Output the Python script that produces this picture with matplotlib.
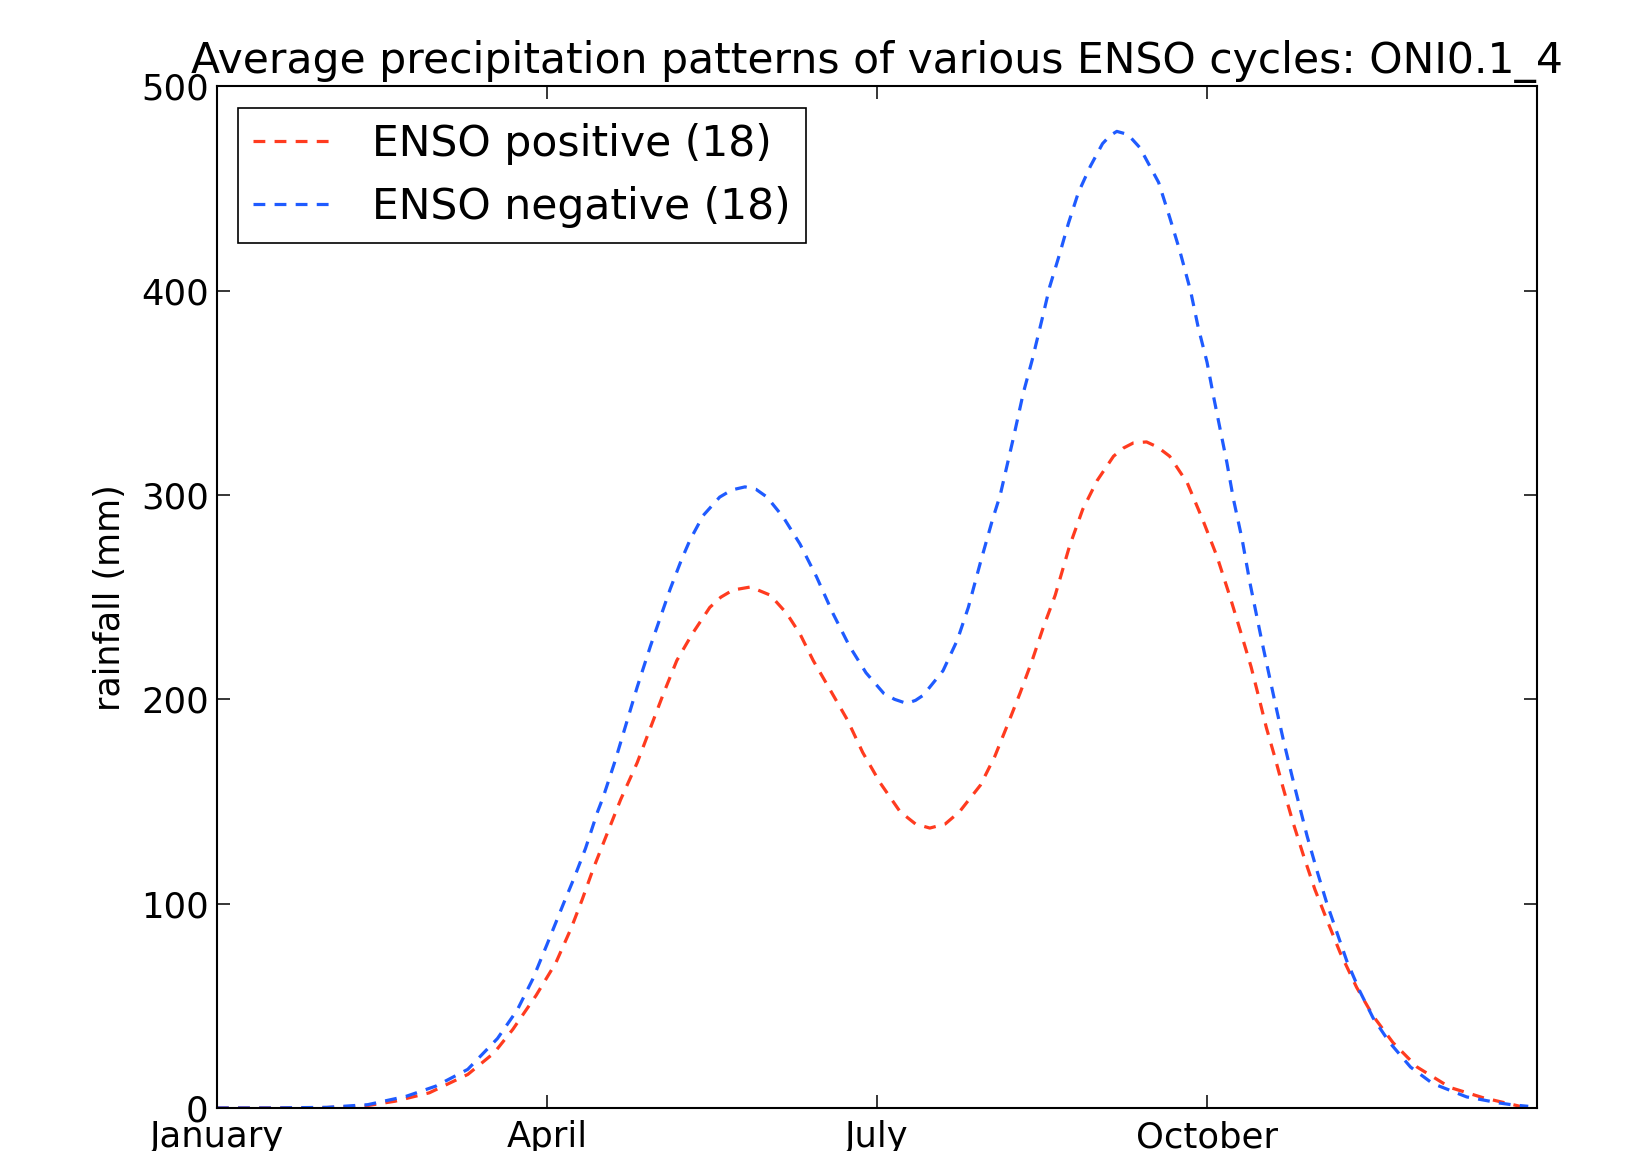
import matplotlib
matplotlib.use("Agg")
import matplotlib.pyplot as plt

# month position (0 = 1 January) and mean rainfall (mm)
pos_months = [0.0, 0.5, 1.0, 1.35, 1.62, 1.93, 2.28, 2.52, 2.69, 2.9, 3.08, 3.22,
              3.32, 3.42, 3.53, 3.67, 3.82, 3.94, 4.06, 4.18, 4.32, 4.48, 4.58,
              4.69, 4.85, 5.03, 5.18, 5.3, 5.42, 5.57, 5.73, 5.87, 6.03, 6.21,
              6.35, 6.48, 6.62, 6.75, 6.94, 7.07, 7.19, 7.3, 7.41, 7.51, 7.62,
              7.75, 7.87, 8.0, 8.15, 8.24, 8.33, 8.45, 8.55, 8.66, 8.82, 8.96,
              9.09, 9.21, 9.3, 9.4, 9.48, 9.54, 9.62, 9.69, 9.78, 9.88, 9.98,
              10.09, 10.21, 10.36, 10.51, 10.69, 10.91, 11.21, 11.51, 11.87]
pos_rain = [0.0, 0.0, 0.2, 1.0, 3.3, 7.4, 16.4, 27, 38.5, 55, 71, 88,
            102, 117, 132, 151, 169, 186, 203, 219, 232, 245, 250,
            253.5, 255, 251, 242, 232, 219, 205, 190, 174, 159, 145,
            139, 137, 139, 145, 158, 172, 188, 203, 219, 235, 251,
            275, 293, 307, 319, 323, 325.5, 326, 323.5, 319, 306, 288,
            270, 250, 234, 216, 199, 186, 171, 157, 140, 123, 107,
            92, 76, 59, 45, 32, 20, 10, 5, 0.5]

neg_months = [0.0, 0.5, 1.0, 1.37, 1.72, 1.99, 2.28, 2.55, 2.73, 2.87, 3.0, 3.15,
              3.25, 3.35, 3.46, 3.51, 3.62, 3.72, 3.82, 3.94, 4.03, 4.12, 4.22,
              4.3, 4.42, 4.57, 4.68, 4.8, 4.9, 5.0, 5.15, 5.3, 5.45, 5.6, 5.75,
              5.9, 6.06, 6.16, 6.27, 6.35, 6.42, 6.6, 6.73, 6.83, 6.94, 7.05,
              7.12, 7.24, 7.33, 7.41, 7.5, 7.57, 7.66, 7.74, 7.83, 7.94, 8.05,
              8.12, 8.18, 8.28, 8.39, 8.56, 8.66, 8.75, 8.85, 8.92, 9.0, 9.06,
              9.12, 9.18, 9.24, 9.32, 9.39, 9.5, 9.62, 9.69, 9.77, 9.83, 9.91,
              10.0, 10.09, 10.18, 10.27, 10.39, 10.51, 10.66, 10.85, 11.05,
              11.36, 11.66, 11.78, 11.92]
neg_rain = [0.0, 0.0, 0.3, 1.6, 5.7, 10.7, 18.9, 34, 48, 63, 80, 100,
            113, 127, 145, 152, 170, 188, 206, 226, 240, 254, 268,
            278, 290, 299, 302.5, 304, 302.8, 299, 289, 276, 260, 242, 226,
            213, 203, 200, 198, 199.5, 202, 214, 229, 245, 267, 288,
            300, 328, 350, 366, 386, 402, 418, 433, 448, 461, 472,
            476, 478, 476.5, 470, 453, 436, 420, 400, 382, 365, 348,
            332, 316, 298, 278, 257, 228, 198, 181, 163, 150, 133,
            116, 100, 86, 72, 57, 44, 32, 20, 12,
            5.4, 2.4, 1.5, 0.8]

tick_pos = [0, 3, 6, 9]
tick_labels = ["January", "April", "July", "October"]

plt.rcParams["font.family"] = "DejaVu Sans"
plt.rcParams["xtick.direction"] = "in"
plt.rcParams["ytick.direction"] = "in"

fig = plt.figure(figsize=(16.35, 11.51), dpi=100)
ax = fig.add_axes([0.1327, 0.0374, 0.8074, 0.8875])

dash = (0, (3.7, 2.9))
ax.plot(pos_months, pos_rain, color="#ff3b1f", lw=2.3, linestyle=dash,
        label="ENSO positive (18)")
ax.plot(neg_months, neg_rain, color="#1f5bff", lw=2.3, linestyle=dash,
        label="ENSO negative (18)")

ax.set_xlim(0, 12)
ax.set_ylim(0, 500)
ax.set_xticks(tick_pos)
ax.set_xticklabels(tick_labels)
ax.set_yticks([0, 100, 200, 300, 400, 500])
ax.tick_params(axis="both", which="major", labelsize=25.5, length=9.5, width=1.1,
               top=True, right=True, pad=6)
ax.tick_params(axis="x", pad=9)
for s in ax.spines.values():
    s.set_linewidth(1.5)

ax.set_ylabel("rainfall (mm)", fontsize=25.2, labelpad=10)
ax.set_title("Average precipitation patterns of various ENSO cycles: ONI0.1_4",
             fontsize=30.6, pad=10)

leg = ax.legend(loc="upper left", fontsize=30.6, fancybox=False, handlelength=1.9,
                handletextpad=0.9, labelspacing=0.5, borderpad=0.35,
                borderaxespad=0.5, framealpha=1)
leg.get_frame().set_edgecolor("black")
leg.get_frame().set_linewidth(1.2)

plt.savefig("out.png", dpi=100)
